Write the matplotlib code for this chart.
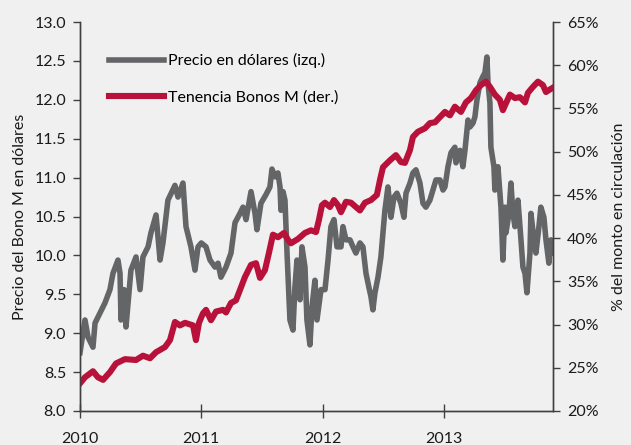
import numpy as np
import matplotlib
matplotlib.use("Agg")
import matplotlib.pyplot as plt
from matplotlib.ticker import FuncFormatter

# precio del Bono M en dolares (eje izq.), fechas en anos decimales
t_precio = [2010.000, 2010.041, 2010.066, 2010.107, 2010.124, 2010.165, 2010.206, 2010.247,
            2010.272, 2010.313, 2010.330, 2010.338, 2010.363, 2010.379, 2010.420, 2010.462,
            2010.495, 2010.519, 2010.561, 2010.585, 2010.627, 2010.660, 2010.684, 2010.725,
            2010.783, 2010.808, 2010.849, 2010.874, 2010.915, 2010.948, 2010.973, 2011.000,
            2011.039, 2011.072, 2011.113, 2011.138, 2011.162, 2011.204, 2011.245, 2011.278,
            2011.319, 2011.344, 2011.369, 2011.410, 2011.443, 2011.459, 2011.492, 2011.533,
            2011.566, 2011.583, 2011.608, 2011.632, 2011.649, 2011.657, 2011.674, 2011.690,
            2011.707, 2011.731, 2011.756, 2011.772, 2011.789, 2011.814, 2011.830, 2011.855,
            2011.871, 2011.896, 2011.913, 2011.937, 2011.954, 2011.987, 2012.020, 2012.045,
            2012.069, 2012.094, 2012.119, 2012.152, 2012.168, 2012.193, 2012.226, 2012.251,
            2012.275, 2012.308, 2012.333, 2012.358, 2012.382, 2012.399, 2012.415, 2012.432,
            2012.457, 2012.481, 2012.514, 2012.539, 2012.564, 2012.589, 2012.613, 2012.646,
            2012.671, 2012.688, 2012.721, 2012.745, 2012.770, 2012.803, 2012.828, 2012.852,
            2012.885, 2012.910, 2012.935, 2012.968, 2012.993, 2013.009, 2013.034, 2013.059,
            2013.091, 2013.100, 2013.133, 2013.157, 2013.174, 2013.199, 2013.215, 2013.240,
            2013.256, 2013.273, 2013.298, 2013.322, 2013.339, 2013.355, 2013.364, 2013.380,
            2013.388, 2013.413, 2013.421, 2013.446, 2013.462, 2013.471, 2013.487, 2013.504,
            2013.512, 2013.537, 2013.553, 2013.570, 2013.586, 2013.611, 2013.636, 2013.652,
            2013.669, 2013.685, 2013.710, 2013.718, 2013.743, 2013.759, 2013.784, 2013.800,
            2013.825, 2013.842, 2013.866, 2013.883, 2013.899]
precio = [8.75, 9.17, 8.95, 8.82, 9.13, 9.26, 9.39, 9.56,
          9.77, 9.94, 9.77, 9.17, 9.56, 9.08, 9.81, 9.98,
          9.56, 9.98, 10.11, 10.29, 10.52, 9.94, 10.16, 10.71,
          10.90, 10.75, 10.93, 10.37, 10.11, 9.81, 10.11, 10.16,
          10.11, 9.94, 9.85, 9.90, 9.72, 9.85, 10.03, 10.42,
          10.54, 10.62, 10.46, 10.82, 10.54, 10.33, 10.67, 10.78,
          10.88, 11.11, 11.01, 11.06, 10.88, 10.58, 10.82, 10.71,
          10.03, 9.17, 9.04, 9.59, 9.94, 9.43, 10.11, 9.85,
          9.17, 8.85, 9.34, 9.68, 9.17, 9.56, 9.56, 9.94,
          10.37, 10.46, 10.11, 10.11, 10.37, 10.20, 10.20, 10.11,
          10.03, 10.16, 10.11, 9.77, 9.59, 9.47, 9.30, 9.52,
          9.72, 9.98, 10.58, 10.88, 10.49, 10.75, 10.80, 10.67,
          10.49, 10.80, 10.93, 11.06, 11.10, 10.93, 10.67, 10.62,
          10.71, 10.84, 10.97, 10.97, 10.84, 10.88, 11.14, 11.32,
          11.39, 11.19, 11.35, 11.14, 11.35, 11.74, 11.65, 11.70,
          11.78, 12.00, 12.22, 12.30, 12.35, 12.55, 12.22, 11.96,
          11.39, 11.14, 10.84, 11.14, 10.80, 10.62, 9.94, 10.62,
          10.29, 10.54, 10.93, 10.54, 10.37, 10.71, 10.20, 9.85,
          9.77, 9.52, 10.03, 10.54, 10.20, 10.03, 10.37, 10.62,
          10.49, 10.20, 9.90, 10.20, 10.03]

# tenencia de Bonos M, % del monto en circulacion (eje der.)
t_tenencia = [2010.000, 2010.041, 2010.107, 2010.148, 2010.190, 2010.247, 2010.297, 2010.371,
              2010.462, 2010.519, 2010.577, 2010.627, 2010.701, 2010.742, 2010.783, 2010.824,
              2010.866, 2010.932, 2010.956, 2010.981, 2011.014, 2011.039, 2011.080, 2011.121,
              2011.179, 2011.204, 2011.245, 2011.286, 2011.319, 2011.360, 2011.410, 2011.451,
              2011.484, 2011.525, 2011.558, 2011.591, 2011.632, 2011.682, 2011.715, 2011.739,
              2011.797, 2011.855, 2011.904, 2011.946, 2011.970, 2011.995, 2012.020, 2012.061,
              2012.094, 2012.127, 2012.152, 2012.193, 2012.234, 2012.275, 2012.308, 2012.350,
              2012.399, 2012.448, 2012.473, 2012.498, 2012.556, 2012.605, 2012.646, 2012.679,
              2012.721, 2012.745, 2012.786, 2012.844, 2012.885, 2012.927, 2012.968, 2013.009,
              2013.050, 2013.091, 2013.141, 2013.182, 2013.223, 2013.265, 2013.306, 2013.347,
              2013.380, 2013.421, 2013.462, 2013.487, 2013.512, 2013.545, 2013.586, 2013.627,
              2013.669, 2013.693, 2013.735, 2013.776, 2013.817, 2013.842, 2013.875, 2013.899]
tenencia = [23.2, 23.9, 24.6, 23.9, 23.6, 24.5, 25.5, 26.0,
            25.9, 26.4, 26.1, 26.8, 27.4, 28.2, 30.3, 29.9,
            30.2, 29.9, 28.2, 30.2, 31.3, 31.7, 30.5, 31.5,
            31.7, 31.4, 32.5, 32.8, 34.0, 35.5, 36.9, 37.1,
            35.4, 36.3, 38.3, 40.4, 40.1, 40.6, 39.8, 39.4,
            39.9, 40.6, 40.9, 40.7, 42.1, 43.8, 44.1, 43.6,
            44.4, 43.8, 43.0, 44.2, 44.1, 43.6, 43.2, 44.1,
            44.4, 45.0, 46.7, 48.2, 49.0, 49.6, 48.8, 48.7,
            50.2, 51.7, 52.3, 52.7, 53.3, 53.4, 54.0, 54.6,
            54.2, 55.2, 54.6, 55.7, 56.2, 57.1, 57.7, 58.1,
            57.5, 56.6, 56.0, 54.8, 55.6, 56.6, 56.2, 56.3,
            55.7, 56.8, 57.5, 58.1, 57.7, 56.9, 57.2, 57.4]

anios = [2010, 2011, 2012, 2013]

bg = "#f0f0f0"
gris = "#646567"
rojo = "#b8123b"
eje = "#404040"

plt.rcParams["font.family"] = ["Lato", "DejaVu Sans"]
plt.rcParams["font.size"] = 11.5

fig = plt.figure(figsize=(6.31, 4.45), dpi=100, facecolor=bg)
ax = fig.add_axes([80 / 631, 34 / 445, 473 / 631, 389 / 445])
ax.set_facecolor(bg)
ax2 = ax.twinx()

l1, = ax.plot(t_precio, precio, color=gris, lw=4.0, solid_joinstyle="round",
              label="Precio en dólares (izq.)")
l2, = ax2.plot(t_tenencia, tenencia, color=rojo, lw=4.4, solid_joinstyle="round",
               label="Tenencia Bonos M (der.)")

ax.set_xlim(2010, 2013.9)
ax.set_ylim(8.0, 13.0)
ax.set_yticks(np.arange(8.0, 13.01, 0.5))
ax.yaxis.set_major_formatter(FuncFormatter(lambda v, p: f"{v:.1f}"))
ax2.set_ylim(20, 65)
ax2.set_yticks(np.arange(20, 66, 5))
ax2.yaxis.set_major_formatter(FuncFormatter(lambda v, p: f"{v:.0f}%"))
ax.set_xticks(anios)
ax.set_xticklabels([str(a) for a in anios])

for a in (ax, ax2):
    a.spines["top"].set_visible(False)
    for s in ("left", "right", "bottom"):
        a.spines[s].set_color(eje)
        a.spines[s].set_linewidth(1.0)
    a.tick_params(colors=eje, labelcolor="#1a1a1a", labelsize=11.5, length=5, width=1)
ax.tick_params(axis="x", direction="inout", length=10, pad=10)
ax.tick_params(axis="y", pad=5)
ax2.tick_params(axis="y", pad=5)

ax.set_ylabel("Precio del Bono M en dólares", fontsize=11.5, color="#1a1a1a", labelpad=5)
ax2.set_ylabel("% del monto en circulación", fontsize=11.5, color="#1a1a1a", labelpad=10)

ax.legend(handles=[l1, l2], loc="upper left", bbox_to_anchor=(0.062, 0.92),
          frameon=False, handlelength=3.4, handletextpad=0.3, labelspacing=1.4,
          borderpad=0, borderaxespad=0, fontsize=11.5)

fig.savefig("out.png", dpi=100, facecolor=bg)
